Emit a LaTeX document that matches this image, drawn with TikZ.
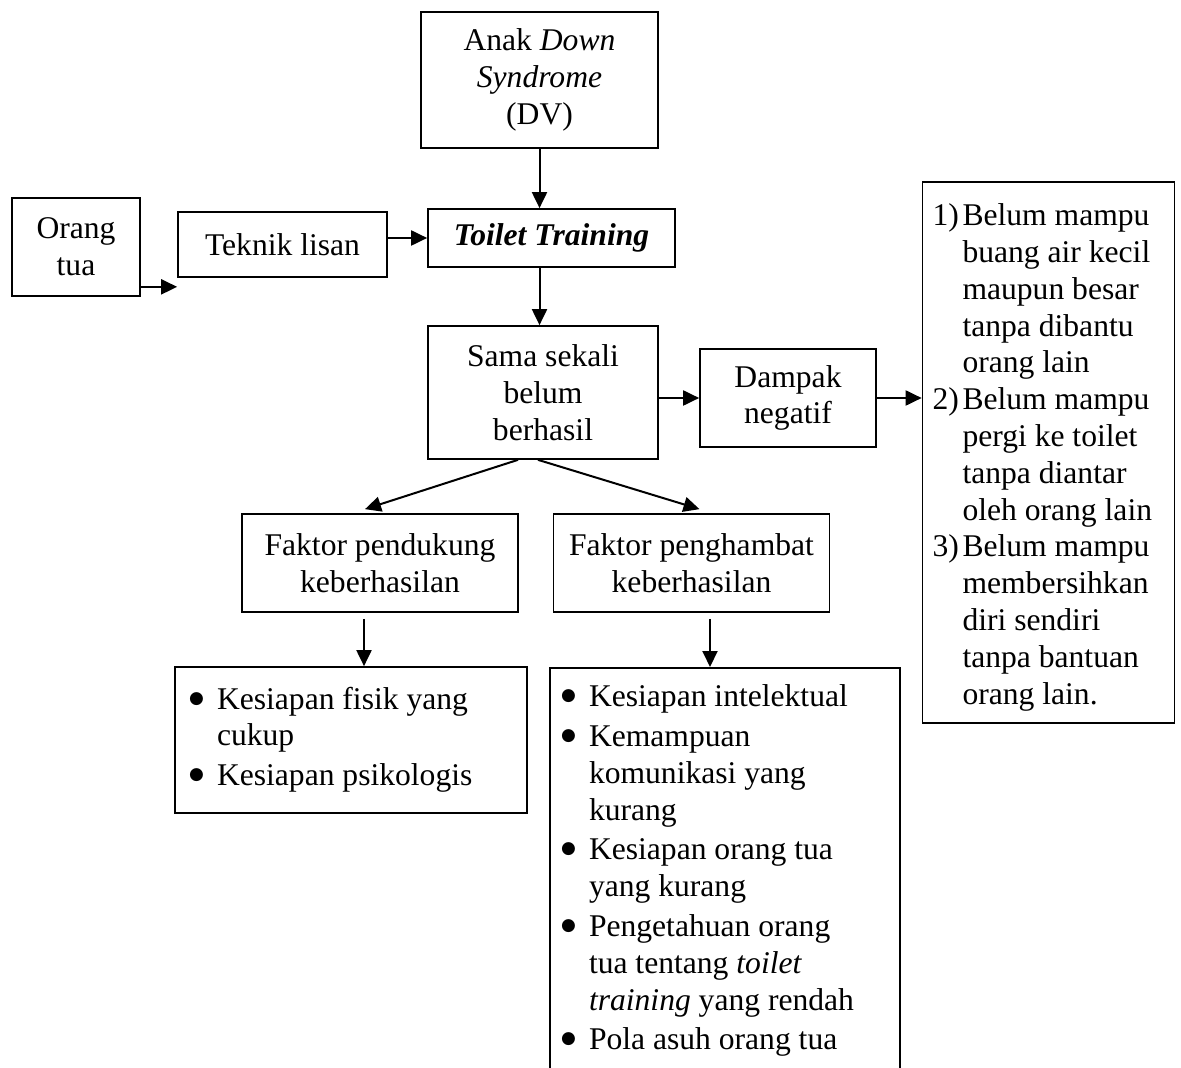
\documentclass[tikz,border=0pt]{standalone}
\usepackage{fontspec}
\setmainfont{Liberation Serif}
\newfontfamily\simbol{DejaVu Sans}
\usetikzlibrary{arrows.meta}
\newcommand{\titik}{\raisebox{3pt}{\simbol\fontsize{8.5}{8.5}\selectfont ●}}

\begin{document}
\begin{tikzpicture}[x=0.5pt,y=-0.5pt,
    kotak/.style={draw, line width=0.85pt, align=center, inner sep=0pt, font=\fontsize{15.8}{18.4}\selectfont},
    panah/.style={line width=1pt, -{Triangle[length=8pt,width=7.5pt]}}]
    \useasboundingbox (0,0) rectangle (1181,1068);
    \clip (0,0) rectangle (1181,1068);
    % kotak utama
    \node[kotak, minimum width=118.5pt, minimum height=68pt] (anak) at (539.5,80) {Anak \textit{Down}\\\textit{Syndrome}\\(DV)};
    \node[kotak, minimum width=123.5pt, minimum height=29pt] (toilet) at (551.5,238) {\textbf{\textit{Toilet Training}}};
    \node[kotak, minimum width=64pt, minimum height=49pt] (orang) at (76,247) {Orang\\tua};
    \node[kotak, minimum width=104.5pt, minimum height=32.5pt] (teknik) at (282.5,244.5) {Teknik lisan};
    \node[kotak, minimum width=115pt, minimum height=66.5pt] (sama) at (543,392.5) {Sama sekali\\belum\\berhasil};
    \node[kotak, minimum width=88pt, minimum height=49pt] (dampak) at (788,398) {Dampak\\negatif};
    \node[kotak, minimum width=126pt, minimum height=270.5pt] (dampaklist) at (1048.5,452.5) {%
        \begin{tabular}{@{}p{15pt}@{}p{101pt}@{}}
        1) & \rule{0pt}{17.9pt}Belum mampu\\
           & buang air kecil\\
           & maupun besar\\
           & tanpa dibantu\\
           & orang lain\\
        2) & Belum mampu\\
           & pergi ke toilet\\
           & tanpa diantar\\
           & oleh orang lain\\
        3) & Belum mampu\\
           & membersihkan\\
           & diri sendiri\\
           & tanpa bantuan\\
           & orang lain.
        \end{tabular}};
    % faktor
    \node[kotak, minimum width=138pt, minimum height=49pt] (pendukung) at (380,563) {Faktor pendukung\\keberhasilan};
    \node[kotak, minimum width=138pt, minimum height=49pt] (penghambat) at (691.5,563) {Faktor penghambat\\keberhasilan};
    \node[kotak, minimum width=176pt, minimum height=73pt] (pendukunglist) at (351,740) {%
        \begin{tabular}{@{}p{14pt}@{}p{148pt}@{}}
        \titik & Kesiapan fisik yang\\
               & cukup\\[1.5pt]
        \titik & Kesiapan psikologis
        \end{tabular}};
    \node[kotak, anchor=north, minimum width=175pt, inner ysep=6.5pt, text depth=210pt] (penghambatlist) at (725,667) {%
        \begin{tabular}[t]{@{}p{14pt}@{}p{150pt}@{}}
        \titik & Kesiapan intelektual\\[1.5pt]
        \titik & Kemampuan\\
               & komunikasi yang\\
               & kurang\\[1.5pt]
        \titik & Kesiapan orang tua\\
               & yang kurang\\[1.5pt]
        \titik & Pengetahuan orang\\
               & tua tentang \textit{toilet}\\
               & \textit{training} yang rendah\\[1.5pt]
        \titik & Pola asuh orang tua
        \end{tabular}};
    % panah
    \draw[panah] (anak.south) -- (anak.south |- toilet.north);
    \draw[panah] (teknik.east |- toilet.west) -- (toilet.west);
    \draw[panah] ([yshift=5pt]orang.south east) -- ([yshift=5pt]orang.south east -| teknik.west);
    \draw[panah] (anak.south |- toilet.south) -- (anak.south |- sama.north);
    \draw[panah] (sama.east |- dampak.west) -- (dampak.west);
    \draw[panah] (dampak.east) -- (dampak.east -| dampaklist.west);
    \draw[panah] ([xshift=-12.5pt]sama.south) -- ([xshift=-7.5pt,yshift=2pt]pendukung.north);
    \draw[panah] ([xshift=-2.5pt]sama.south) -- ([xshift=4pt,yshift=2pt]penghambat.north);
    \draw[panah] ([xshift=-8pt,yshift=-3pt]pendukung.south) -- ([xshift=-8pt]pendukung.south |- pendukunglist.north);
    \draw[panah] ([xshift=9.25pt,yshift=-3pt]penghambat.south) -- ([xshift=9.25pt]penghambat.south |- penghambatlist.north);
\end{tikzpicture}
\end{document}
